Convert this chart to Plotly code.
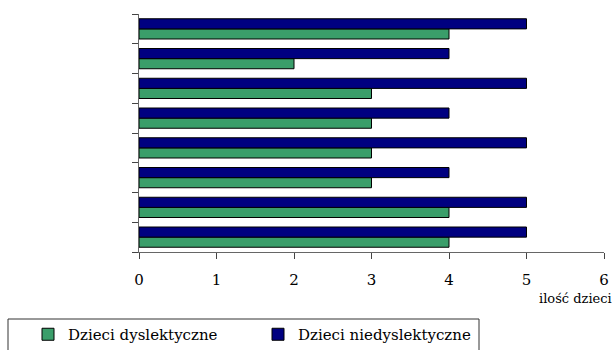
import plotly.graph_objects as go

# Groups listed top to bottom (labels hidden on the axis)
groups = ["1", "2", "3", "4", "5", "6", "7", "8"]
dyslexic = [4, 2, 3, 3, 3, 3, 4, 4]
non_dyslexic = [5, 4, 5, 4, 5, 4, 5, 5]
x_ticks = [0, 1, 2, 3, 4, 5, 6]

GREEN = "rgb(58,158,106)"
NAVY = "rgb(0,0,128)"
FONT = "DejaVu Serif"

W, H = 616, 350
L, R, T, B = 139, 12, 14, 98
PW, PH = W - L - R, H - T - B


def px_x(px):
    return (px - L) / PW


def px_y(py):
    return (H - B - py) / PH


fig = go.Figure()
fig.add_trace(go.Bar(
    y=groups, x=dyslexic, orientation="h", name="Dzieci dyslektyczne",
    marker=dict(color=GREEN, line=dict(color="black", width=1)),
))
fig.add_trace(go.Bar(
    y=groups, x=non_dyslexic, orientation="h", name="Dzieci niedyslektyczne",
    marker=dict(color=NAVY, line=dict(color="black", width=1)),
))

fig.update_layout(
    width=W, height=H,
    margin=dict(l=L, r=R, t=T, b=B, pad=0, autoexpand=False),
    paper_bgcolor="white", plot_bgcolor="white",
    barmode="group", bargap=0.32, bargroupgap=0,
    font=dict(family=FONT, size=15, color="black"),
    showlegend=True,
    legend=dict(
        orientation="h", x=px_x(28), xanchor="left", y=px_y(318), yanchor="top",
        entrywidth=185, font=dict(family=FONT, size=15),
        traceorder="normal", bgcolor="rgba(0,0,0,0)", borderwidth=0,
    ),
    xaxis=dict(
        range=[0, 6], tickvals=x_ticks, ticks="outside", ticklen=6,
        tickcolor="#444", showline=True, linecolor="#666", linewidth=1,
        showgrid=False, zeroline=False, ticklabelstandoff=8,
        tickfont=dict(family=FONT, size=15),
    ),
    yaxis=dict(
        type="category", categoryorder="array", categoryarray=groups[::-1],
        tickson="boundaries", ticks="outside", ticklen=6, tickcolor="#444",
        showticklabels=False, showline=True, linecolor="#666", linewidth=1,
        showgrid=False, zeroline=False,
    ),
    annotations=[dict(
        text="ilość dzieci", xref="paper", yref="paper",
        x=px_x(614), y=px_y(298), xanchor="right", yanchor="middle",
        showarrow=False, font=dict(family=FONT, size=13),
    )],
    shapes=[dict(
        type="rect", xref="paper", yref="paper",
        x0=px_x(8), x1=px_x(479), y0=px_y(360), y1=px_y(319),
        line=dict(color="#333", width=1), fillcolor="rgba(0,0,0,0)",
    )],
)

fig.write_html("out.html")
